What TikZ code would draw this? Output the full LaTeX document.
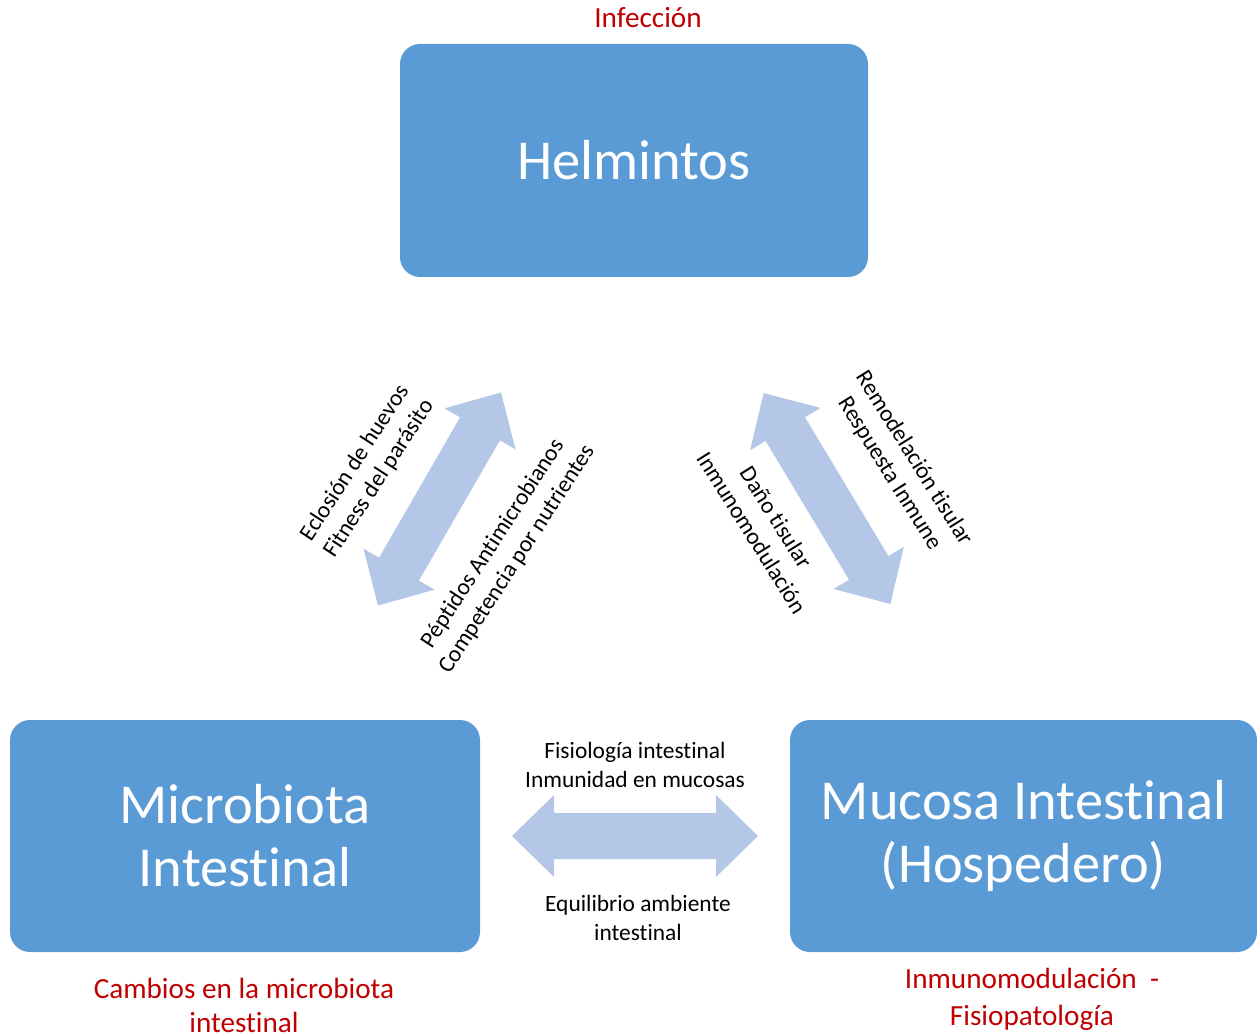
\documentclass[tikz,border=0pt]{standalone}
\usepackage{fontspec}
\setmainfont{Carlito}[Ligatures=NoCommon]
\usetikzlibrary{positioning}
\definecolor{boxblue}{HTML}{5B9BD5}
\definecolor{arrowblue}{HTML}{B4C7E7}
\definecolor{labelred}{HTML}{C00000}
% block arrow with two heads: centre, angle
\newcommand{\dblarrow}[2]{%
  \fill[arrowblue,shift={#1},rotate=#2] (-123,0)--(-81,41)--(-81,23)--(81,23)--(81,41)--(123,0)--(81,-41)--(81,-23)--(-81,-23)--(-81,-41)--cycle;}

\begin{document}
\begin{tikzpicture}[x=0.5pt,y=-0.5pt,
  bigbox/.style={fill=boxblue,rounded corners=10pt,minimum width=234pt,minimum height=116.5pt,
    text=white,align=center,font=\fontsize{28.2}{31.5}\selectfont},
  note/.style={align=center,font=\fontsize{11.7}{14.4}\selectfont},
  redlbl/.style={align=center,text=labelred,font=\fontsize{14.6}{17}\selectfont}]
\useasboundingbox (0,0) rectangle (1257,1036);
\node[bigbox] (helm) at (634,160.5) {Helmintos};
\node[bigbox,minimum width=235pt,minimum height=116pt] (micro) at (245,836) {Microbiota\\Intestinal};
\node[bigbox,minimum width=233.5pt,minimum height=116pt] (mucosa) at (1023.5,836) {Mucosa Intestinal\\(Hospedero)};
\node[redlbl] (infec) at (648,18) {Infección};
\node[redlbl] (cambios) at (244,1005) {Cambios en la microbiota\\intestinal};
\node[redlbl,font=\fontsize{14.6}{18.5}\selectfont] (fisio) at (1032,999) {Inmunomodulación\ \ -\\Fisiopatología};
\dblarrow{(439.5,499)}{60}
\dblarrow{(827,498.5)}{-59}
\dblarrow{(635,836)}{0}
\node[note,rotate=57] (eclos) at (367,471) {Eclosión de huevos\\Fitness del parásito};
\node[note,rotate=57] (pept) at (505,551.5) {Péptidos Antimicrobianos\\Competencia por nutrientes};
\node[note,rotate=-58] (remod) at (901.5,466) {Remodelación tisular\\Respuesta Inmune};
\node[note,rotate=-58] (dano) at (764,525) {Daño tisular\\Inmunomodulación};
\node[note] (fisiol) at (635,765) {Fisiología intestinal\\Inmunidad en mucosas};
\node[note] (equil) at (638,918) {Equilibrio ambiente\\intestinal};
\end{tikzpicture}
\end{document}
